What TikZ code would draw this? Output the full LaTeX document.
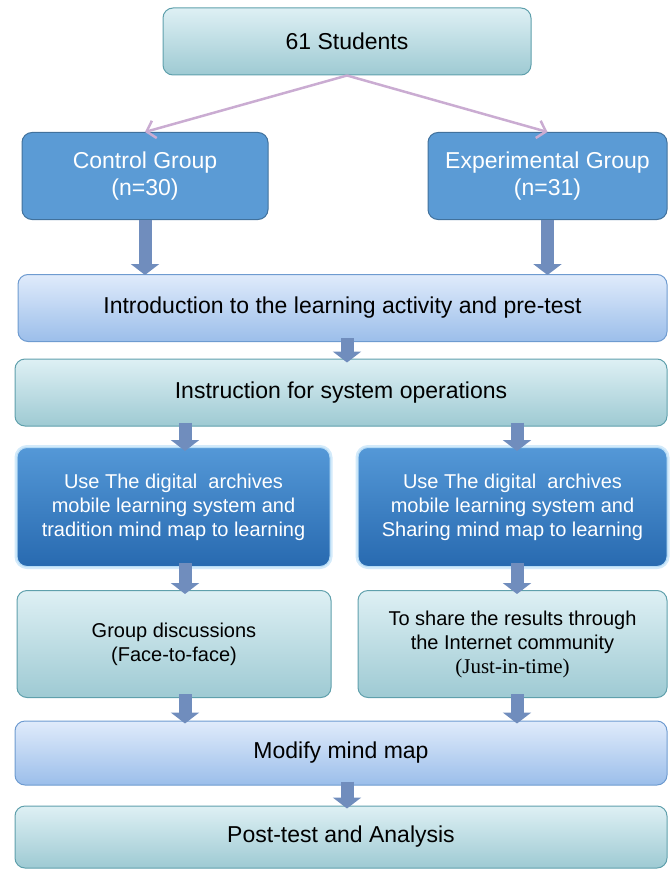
\documentclass[tikz,border=0pt]{standalone}
\usepackage{fontspec}
\setmainfont{Liberation Sans}
\newfontfamily\serifnote{Liberation Serif}
\usepackage{tikz}
\usetikzlibrary{arrows.meta, positioning}
\definecolor{colorTealTop}{RGB}{222,240,244}
\definecolor{colorTealBottom}{RGB}{158,202,211}
\definecolor{colorTealLine}{RGB}{95,160,172}
\definecolor{colorSkyTop}{RGB}{224,235,251}
\definecolor{colorSkyBottom}{RGB}{155,190,234}
\definecolor{colorSkyLine}{RGB}{110,155,208}
\definecolor{colorGroup}{RGB}{91,155,213}
\definecolor{colorGroupLine}{RGB}{65,113,156}
\definecolor{colorDeepTop}{RGB}{84,152,215}
\definecolor{colorDeepBottom}{RGB}{40,106,176}
\definecolor{colorGlow}{RGB}{182,220,246}
\definecolor{colorStep}{RGB}{112,141,189}
\definecolor{colorSplit}{RGB}{202,172,210}
\tikzset{
  box/.style={rounded corners=10pt, line width=1pt, align=center, inner sep=0pt},
  tealbox/.style={box, draw=colorTealLine, top color=colorTealTop, bottom color=colorTealBottom},
  skybox/.style={box, draw=colorSkyLine, top color=colorSkyTop, bottom color=colorSkyBottom},
  groupbox/.style={box, draw=colorGroupLine, fill=colorGroup, text=white},
  deepbox/.style={box, draw=colorGlow, top color=colorDeepTop, bottom color=colorDeepBottom, text=white,
    preaction={draw=colorGlow!60, line width=5pt}},
  steparrow/.style={colorStep, line width=13pt, -{Triangle[width=28pt, length=11pt]}},
  splitline/.style={colorSplit, line width=2.5pt, -{Straight Barb[width=18pt, length=8pt]}}
}
\begin{document}
\begin{tikzpicture}[x=1pt, y=-1pt, font=\fontsize{23}{27}\selectfont]
\useasboundingbox (0,0) rectangle (669,869);
\coordinate (spine) at (347,0);
\coordinate (laneL) at (185,0);
\coordinate (laneR) at (517,0);

\node[tealbox, minimum width=368pt, minimum height=67pt] (students) at (347,41.5) {61 Students};
\node[groupbox, minimum width=246pt, minimum height=87pt] (ctrl) at (145,176) {Control Group\\(n=30)};
\node[groupbox, minimum width=239pt, minimum height=87pt] (exp) at (547.5,176) {Experimental Group\\(n=31)};
\node[skybox, minimum width=649pt, minimum height=67pt] (intro) at (342.5,308) {Introduction to the learning activity and pre-test};
\node[tealbox, minimum width=652pt, minimum height=67pt] (instr) at (341,392.5) {Instruction for system operations};
\node[deepbox, minimum width=313pt, minimum height=119pt, font=\fontsize{20}{24}\selectfont] (useL) at (173.5,507)
  {Use The digital\ \ archives\\mobile learning system and\\tradition mind map to learning};
\node[deepbox, minimum width=309pt, minimum height=119pt, font=\fontsize{20}{24}\selectfont] (useR) at (512.5,507)
  {Use The digital\ \ archives\\mobile learning system and\\Sharing mind map to learning};
\node[tealbox, minimum width=314pt, minimum height=107pt, font=\fontsize{20}{24}\selectfont] (groupL) at (174,644)
  {Group discussions\\(Face-to-face)};
\node[tealbox, minimum width=309pt, minimum height=107pt, font=\fontsize{20}{24}\selectfont] (shareR) at (512.5,644)
  {To share the results through\\the Internet community\\{\serifnote\fontsize{21}{24}\selectfont(Just-in-time)}};
\node[skybox, minimum width=652pt, minimum height=64pt] (modify) at (341,753) {Modify mind map};
\node[tealbox, minimum width=652pt, minimum height=62pt] (post) at (341,837) {Post-test and Analysis};

% split of the students
\draw[splitline] (students.south) -- (ctrl.north);
\draw[splitline] (students.south) -- (exp.north);

% block arrows
\draw[steparrow] (ctrl.south) -- ([yshift=-1pt]ctrl.south |- intro.north);
\draw[steparrow] (exp.south) -- ([yshift=-1pt]exp.south |- intro.north);
\draw[steparrow] ([yshift=4pt]intro.south -| spine) -- ([yshift=-4pt]instr.north -| spine);
\draw[steparrow] ([yshift=4pt]instr.south -| laneL) -- ([yshift=-4pt]useL.north -| laneL);
\draw[steparrow] ([yshift=4pt]instr.south -| laneR) -- ([yshift=-4pt]useR.north -| laneR);
\draw[steparrow] ([yshift=4pt]useL.south -| laneL) -- ([yshift=-4pt]groupL.north -| laneL);
\draw[steparrow] ([yshift=4pt]useR.south -| laneR) -- ([yshift=-4pt]shareR.north -| laneR);
\draw[steparrow] ([yshift=4pt]groupL.south -| laneL) -- ([yshift=-3pt]modify.north -| laneL);
\draw[steparrow] ([yshift=4pt]shareR.south -| laneR) -- ([yshift=-3pt]modify.north -| laneR);
\draw[steparrow] ([yshift=4pt]modify.south -| spine) -- ([yshift=-3pt]post.north -| spine);
\end{tikzpicture}
\end{document}
